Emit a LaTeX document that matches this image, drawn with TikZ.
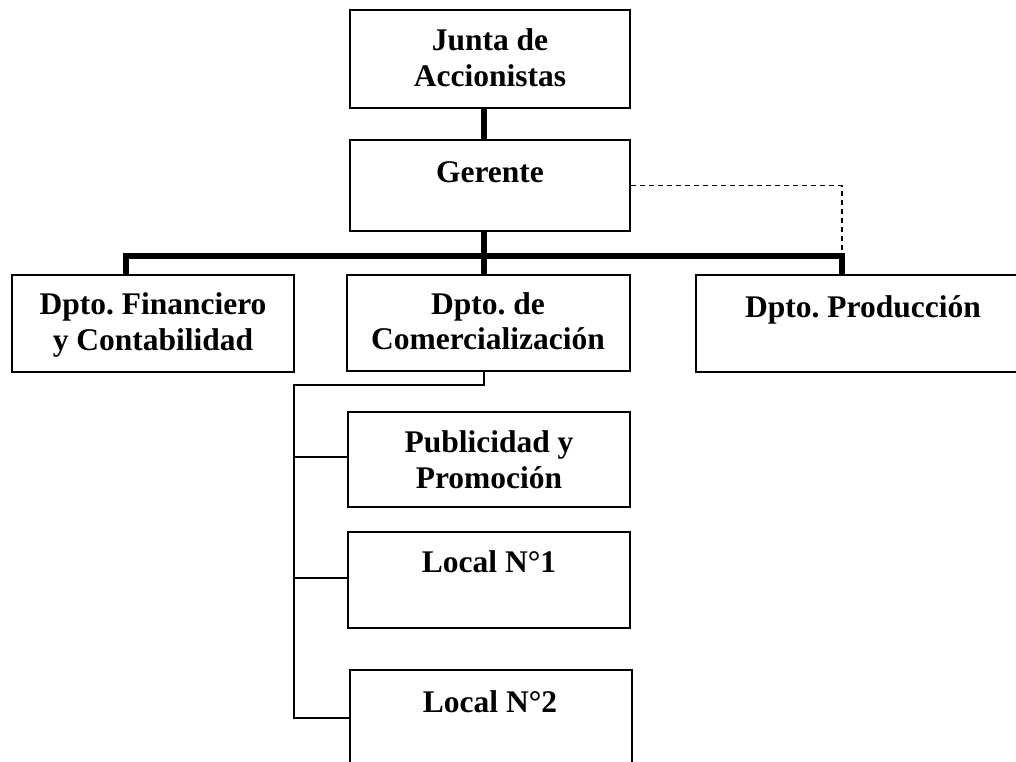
\documentclass[tikz,border=0pt]{standalone}
\usepackage{fontspec}
\setmainfont{Liberation Serif}
\frenchspacing
\begin{document}
\begin{tikzpicture}[x=1pt,y=-1pt,
  box/.style={draw, line width=2.2pt, inner sep=0pt},
  txt/.style={font=\bfseries\fontsize{31.5}{36}\selectfont, inner sep=0pt, anchor=base},
  busline/.style={line width=5.5pt, line join=miter},
  tline/.style={line width=2.2pt},
  dashline/.style={line width=1.7pt, dash pattern=on 5pt off 4pt}]
\useasboundingbox (0,0) rectangle (1016,761);
\clip (0,0) rectangle (1016,761);
\fill[white] (0,0) rectangle (1016,761);
% boxes
\node[box, minimum width=280pt, minimum height=98pt] (junta) at (490,59) {};
\node[box, minimum width=280pt, minimum height=91pt] (gerente) at (490,185.5) {};
\node[box, minimum width=282pt, minimum height=97pt] (fin) at (153,323.5) {};
\node[box, minimum width=283pt, minimum height=96pt] (comer) at (488.5,323) {};
\node[box, minimum width=334pt, minimum height=97pt] (prod) at (863,323.5) {};
\node[box, minimum width=282pt, minimum height=95pt] (publi) at (489,459.5) {};
\node[box, minimum width=282pt, minimum height=96pt] (loc1) at (489,580) {};
\node[box, minimum width=282pt, minimum height=130pt] (loc2) at (491,735) {};
% texts
\node[txt] (juntaA) at (490,50) {Junta de};
\node[txt] (juntaB) at (490,86) {Accionistas};
\node[txt] (gerT) at (490,182) {Gerente};
\node[txt] (finA) at (153,314) {Dpto. Financiero};
\node[txt] (finB) at (153,350) {y Contabilidad};
\node[txt] (comA) at (488,314) {Dpto. de};
\node[txt] (comB) at (488,349) {Comercialización};
\node[txt] (prodT) at (863,317) {Dpto. Producción};
\node[txt] (pubA) at (489,452) {Publicidad y};
\node[txt] (pubB) at (489,488) {Promoción};
\node[txt] (l1T) at (489,572) {Local N°1};
\node[txt] (l2T) at (490,712) {Local N°2};
% coordinates
\coordinate (trunk) at (484,256);
\coordinate (busL) at (126,256);
\coordinate (busR) at (842,256);
\coordinate (spine) at (294,385);
\coordinate (b1) at (294,457);
\coordinate (b2) at (294,578);
\coordinate (b3) at (294,718);
% connectors
\draw[busline] (junta.south -| trunk) -- (gerente.north -| trunk);
\draw[busline] (gerente.south -| trunk) -- (trunk);
\draw[busline] (fin.north -| busL) -- (busL) -- (busR) -- (prod.north -| busR);
\draw[busline] (trunk) -- (comer.north -| trunk);
\draw[dashline] (gerente.east) -| (busR);
\draw[tline] (comer.south -| trunk) -- (trunk |- spine) -- (spine) -- (b3) -- (loc2.west |- b3);
\draw[tline] (b1) -- (publi.west |- b1);
\draw[tline] (b2) -- (loc1.west |- b2);
\end{tikzpicture}
\end{document}
